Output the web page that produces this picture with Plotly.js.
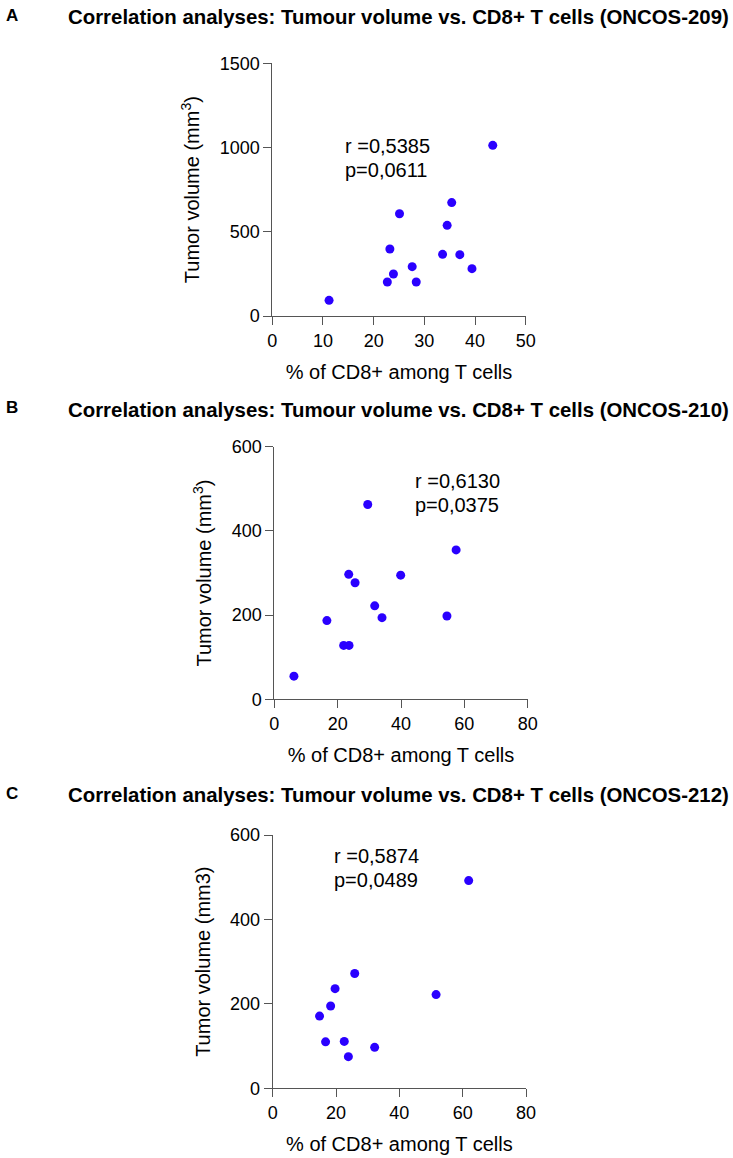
<!DOCTYPE html>
<html>
<head>
<meta charset="utf-8">
<script src="https://cdn.plot.ly/plotly-3.0.1.min.js"></script>
<style>
html,body{margin:0;padding:0;background:#fff;}
#chart{width:733px;height:1158px;}
</style>
</head>
<body>
<div id="chart"></div>
<script>
// ---- Data ----
const panelLetters = ["A", "B", "C"];
const panelTitles = [
  "Correlation analyses: Tumour volume vs. CD8+ T cells (ONCOS-209)",
  "Correlation analyses: Tumour volume vs. CD8+ T cells (ONCOS-210)",
  "Correlation analyses: Tumour volume vs. CD8+ T cells (ONCOS-212)"
];
const xTitle = "% of CD8+ among T cells";
const yTitles = ["Tumor volume (mm<sup>3</sup>)", "Tumor volume (mm<sup>3</sup>)", "Tumor volume (mm3)"];
const statsR = ["r =0,5385", "r =0,6130", "r =0,5874"];
const statsP = ["p=0,0611", "p=0,0375", "p=0,0489"];

const cd8_209 = [11.2, 22.7, 23.2, 23.9, 25.1, 27.6, 28.4, 33.6, 34.5, 35.4, 37.0, 39.4, 43.5];
const vol_209 = [93, 202, 398, 249, 607, 293, 202, 366, 538, 673, 364, 281, 1013];

const cd8_210 = [6.2, 16.6, 21.9, 23.6, 23.5, 25.5, 29.5, 31.7, 34.0, 39.9, 54.5, 57.4];
const vol_210 = [55, 187, 128, 128, 297, 277, 463, 222, 194, 295, 198, 355];

const cd8_212 = [14.8, 16.7, 18.3, 19.7, 22.6, 23.9, 25.9, 32.2, 51.6, 61.9];
const vol_212 = [171, 110, 195, 236, 111, 75, 272, 97, 222, 492];

const xRanges = [[0, 50], [0, 80], [0, 80]];
const yRanges = [[0, 1500], [0, 600], [0, 600]];
const xDtick = [10, 20, 20];
const yDtick = [500, 200, 200];

// ---- Layout geometry (pixels) ----
const W = 733, H = 1158;
const px = v => v / W;
const py = v => 1 - v / H;
const geom = [
  {x0: 272.3, x1: 525.7, yb: 316.0, yt: 63.3, titleY: 17, rX: 343, rY: 146, pY: 170},
  {x0: 274.3, x1: 527.7, yb: 699.3, yt: 446.8, titleY: 410, rX: 413, rY: 481, pY: 505},
  {x0: 272.7, x1: 526.0, yb: 1088.3, yt: 835.0, titleY: 795, rX: 332, rY: 856, pY: 880}
];

const FONT = "Liberation Sans, Arial, Helvetica, sans-serif";
const series = [[cd8_209, vol_209], [cd8_210, vol_210], [cd8_212, vol_212]];

const traces = [];
const layout = {
  width: W, height: H,
  margin: {l: 0, r: 0, t: 0, b: 0},
  paper_bgcolor: "#fff", plot_bgcolor: "#fff",
  showlegend: false,
  font: {family: FONT, color: "#000", size: 18},
  annotations: []
};

for (let i = 0; i < 3; i++) {
  const n = i === 0 ? "" : String(i + 1);
  const g = geom[i];
  traces.push({
    type: "scatter", mode: "markers",
    x: series[i][0], y: series[i][1],
    xaxis: "x" + n, yaxis: "y" + n,
    marker: {color: "#2a00ff", size: 9},
    cliponaxis: false,
    hoverinfo: "x+y"
  });
  const axCommon = {
    showgrid: false, zeroline: false,
    showline: true, linecolor: "#555", linewidth: 1,
    ticks: "outside", ticklen: 8, tickwidth: 1, tickcolor: "#555",
    tickfont: {family: FONT, size: 18, color: "#000"},
    fixedrange: true
  };
  layout["xaxis" + n] = Object.assign({}, axCommon, {
    domain: [px(g.x0), px(g.x1)],
    anchor: "y" + n,
    range: xRanges[i], dtick: xDtick[i], tick0: 0,
    title: {text: xTitle, font: {family: FONT, size: 20, color: "#000"}, standoff: 15}
  });
  layout["yaxis" + n] = Object.assign({}, axCommon, {
    domain: [py(g.yb), py(g.yt)],
    anchor: "x" + n,
    range: yRanges[i], dtick: yDtick[i], tick0: 0,
    title: {text: yTitles[i], font: {family: FONT, size: 20, color: "#000"}, standoff: 14}
  });
  layout.annotations.push({
    xref: "paper", yref: "paper", x: px(4), y: py(g.titleY - 2),
    xanchor: "left", yanchor: "middle", showarrow: false,
    text: "<b>" + panelLetters[i] + "</b>", font: {family: FONT, size: 17, color: "#000"}
  });
  layout.annotations.push({
    xref: "paper", yref: "paper", x: px(398.5), y: py(g.titleY),
    xanchor: "center", yanchor: "middle", showarrow: false,
    text: "<b>" + panelTitles[i] + "</b>", font: {family: FONT, size: 20.4, color: "#000"}
  });
  layout.annotations.push({
    xref: "paper", yref: "paper", x: px(g.rX), y: py(g.rY),
    xanchor: "left", yanchor: "middle", showarrow: false,
    text: statsR[i], font: {family: FONT, size: 20, color: "#000"}
  });
  layout.annotations.push({
    xref: "paper", yref: "paper", x: px(g.rX), y: py(g.pY),
    xanchor: "left", yanchor: "middle", showarrow: false,
    text: statsP[i], font: {family: FONT, size: 20, color: "#000"}
  });
}

Plotly.newPlot("chart", traces, layout, {displayModeBar: false, staticPlot: false});
</script>
</body>
</html>
